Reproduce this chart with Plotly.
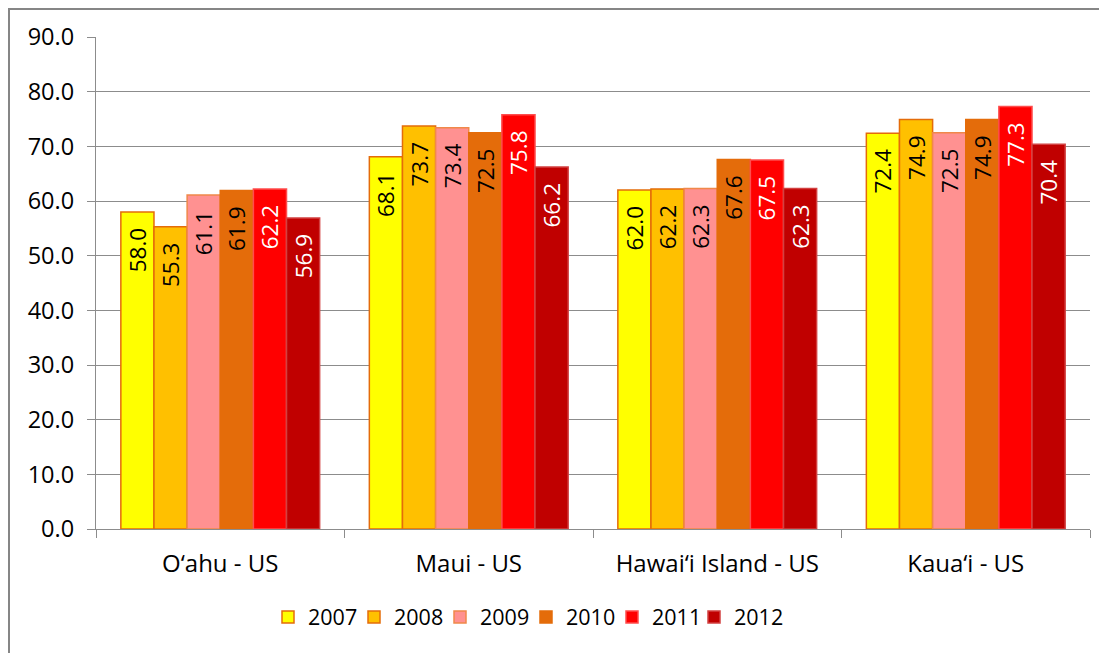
import plotly.graph_objects as go

categories = ["O\u2018ahu - US", "Maui - US", "Hawai\u2018i Island - US", "Kaua\u2018i - US"]
years = ["2007", "2008", "2009", "2010", "2011", "2012"]
v2007 = [58.0, 68.1, 62.0, 72.4]
v2008 = [55.3, 73.7, 62.2, 74.9]
v2009 = [61.1, 73.4, 62.3, 72.5]
v2010 = [61.9, 72.5, 67.6, 74.9]
v2011 = [62.2, 75.8, 67.5, 77.3]
v2012 = [56.9, 66.2, 62.3, 70.4]
series = [v2007, v2008, v2009, v2010, v2011, v2012]

fills = ["#FFFF00", "#FFC000", "#FF9191", "#E46C0A", "#FF0000", "#C00000"]
borders = ["#E46C0A", "#E46C0A", "#F0884A", "#E46C0A", "#FF4D4D", "#D24040"]
textcolors = ["black", "black", "black", "black", "white", "white"]

FONT = "Open Sans"
FS_TICK = 23.5
FS_CAT = 24
FS_LABEL = 22.5
FS_LEG = 21.5

# page body has an 8px margin: compensate so the plot lands where the reference has it
SH = 8
L, T = 96 - SH, 37 - SH
PW, PH = 994, 492
R = 1107 - (L + PW)
B = 653 - (T + PH)

pad = "<span style='color:rgba(0,0,0,0)'>0</span>"

fig = go.Figure()
for i, (yr, vals, fc, bc, tc) in enumerate(zip(years, series, fills, borders, textcolors)):
    fig.add_trace(go.Bar(
        name=yr, x=categories, y=vals,
        marker=dict(color=fc, line=dict(color=bc, width=1.5)),
        text=[f"{v:.1f}{pad}" for v in vals],
        hovertext=[f"{v:.1f}" for v in vals], hoverinfo="text+name",
        textposition="inside", insidetextanchor="end", textangle=-90,
        insidetextfont=dict(family=FONT, size=FS_LABEL, color=tc),
        legend="legend2" if i == len(years) - 1 else "legend",
    ))

leg_x = (268 - SH - L) / PW
leg_y = (529 - 617) / PH
ENTRY = 41
STEP = 85.2
common_leg = dict(orientation="h", xanchor="left", y=leg_y, yanchor="middle",
                  font=dict(family=FONT, size=FS_LEG), itemwidth=30,
                  entrywidthmode="pixels", traceorder="normal",
                  bgcolor="rgba(0,0,0,0)")

fig.update_layout(
    width=1107, height=653,
    margin=dict(l=L, r=R, t=T, b=B),
    paper_bgcolor="white", plot_bgcolor="white",
    barmode="group", bargap=0.2, bargroupgap=0,
    font=dict(family=FONT, size=FS_LEG, color="black"),
    uniformtext=dict(minsize=FS_LABEL, mode="show"),
    legend=dict(x=leg_x, entrywidth=ENTRY, **common_leg),
    legend2=dict(x=leg_x + 5 * STEP / PW, entrywidth=60, **common_leg),
    showlegend=True,
)
fig.update_yaxes(range=[0, 90], dtick=10, tickformat=".1f",
                 showgrid=True, gridcolor="#8C8C8C", gridwidth=1.3,
                 showline=True, linecolor="#8C8C8C", linewidth=1.3,
                 ticks="outside", ticklen=8, tickcolor="#8C8C8C", tickwidth=1.3,
                 ticklabelstandoff=8, zeroline=False,
                 tickfont=dict(family=FONT, size=FS_TICK))
fig.update_xaxes(showline=True, linecolor="#8C8C8C", linewidth=1.3,
                 ticks="outside", tickson="boundaries", ticklen=8,
                 tickcolor="#8C8C8C", tickwidth=1.3, showgrid=False,
                 ticklabelstandoff=13,
                 tickfont=dict(family=FONT, size=FS_CAT))

# outer chart border
fig.add_shape(type="rect", xref="paper", yref="paper",
              x0=(1 - L) / PW, x1=(1115 - L) / PW,
              y0=(T + PH - 700) / PH, y1=(T + PH - 1) / PH,
              line=dict(color="#868686", width=2), fillcolor="rgba(0,0,0,0)", layer="below")

fig.write_html("out.html")
